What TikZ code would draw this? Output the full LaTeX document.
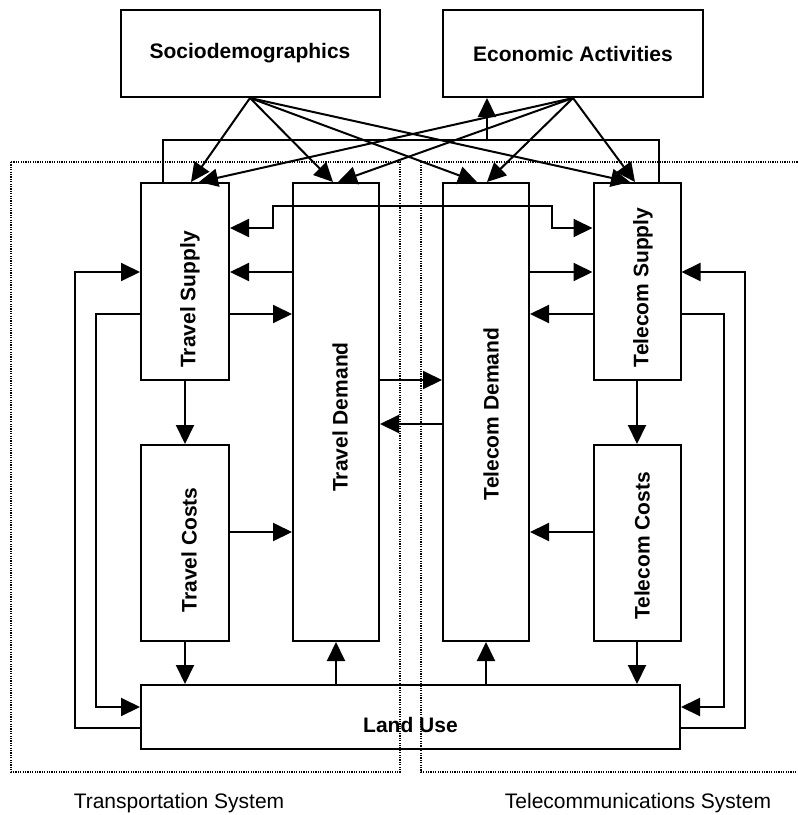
\documentclass[tikz,border=0pt]{standalone}
\usepackage{fontspec}
\setmainfont{Liberation Sans}
\usetikzlibrary{arrows.meta,calc}
\tikzset{
    bloc/.style={draw,line width=2pt,inner sep=0pt},
    lab/.style={font=\fontsize{21}{25}\selectfont\bfseries},
    vlab/.style={lab,rotate=90},
    fl/.style={-{Triangle[length=19pt,width=18pt]},line width=2pt},
    trait/.style={line width=2pt},
    cadre/.style={line width=1.3pt,dash pattern=on 1.2pt off 1.2pt},
    legende/.style={font=\fontsize{21}{25}\selectfont},
}

\begin{document}
\begin{tikzpicture}[x=1pt,y=-1pt]
    \useasboundingbox (0,0) rectangle (798,815);
    %cadres des deux systemes
    \draw[cadre] (11,162) rectangle (400,772);
    \draw[cadre] (800,162) -- (421,162) -- (421,772) -- (800,772);
    \node[legende] (ltrans) at (179,803) {Transportation System};
    \node[legende] (ltele) at (638,803) {Telecommunications System};

    %blocs
    \node[bloc,minimum width=259,minimum height=87] (soc) at (250,53.5) {};
    \node[bloc,minimum width=260,minimum height=87] (eco) at (573,53.5) {};
    \node[bloc,minimum width=88,minimum height=197] (tsup) at (185,281.5) {};
    \node[bloc,minimum width=86,minimum height=458] (tdem) at (336,412) {};
    \node[bloc,minimum width=86,minimum height=458] (cdem) at (486,412) {};
    \node[bloc,minimum width=87,minimum height=197] (csup) at (637,281.5) {};
    \node[bloc,minimum width=88,minimum height=196] (tcost) at (185,543) {};
    \node[bloc,minimum width=87,minimum height=196] (ccost) at (637,543) {};
    \node[bloc,minimum width=539,minimum height=64] (land) at (410.5,717) {};

    %textes des blocs
    \node[lab] (socl) at (soc) {Sociodemographics};
    \node[lab] (ecol) at (eco) {Economic Activities};
    \node[vlab] (tsupl) at ($(tsup)+(5,18)$) {Travel Supply};
    \node[vlab] (tdeml) at ($(tdem)+(4,5)$) {Travel Demand};
    \node[vlab] (cdeml) at ($(cdem)+(5,2)$) {Telecom Demand};
    \node[vlab] (csupl) at ($(csup)+(6,6)$) {Telecom Supply};
    \node[vlab] (tcostl) at ($(tcost)+(4,7)$) {Travel Costs};
    \node[vlab] (ccostl) at ($(ccost)+(5,3)$) {Telecom Costs};
    \node[lab] (landl) at ($(land)+(0,8)$) {Land Use};

    %hauteurs des liaisons
    \coordinate (r2) at (0,228);
    \coordinate (r3) at (0,272);
    \coordinate (r4) at (0,314);
    \coordinate (r5) at (0,380);
    \coordinate (r6) at (0,424);
    \coordinate (r7) at (0,532);
    \coordinate (r8) at (0,707);
    \coordinate (r9) at (0,728);

    %fleches du haut
    \draw[fl] (soc.south) -- ([xshift=6]tsup.north);
    \draw[fl] (soc.south) -- ([xshift=-3]tdem.north);
    \draw[fl] (soc.south) -- ([xshift=-9]cdem.north);
    \draw[fl] (soc.south) -- ([xshift=-7]csup.north);
    \draw[fl] (eco.south) -- ([xshift=14]tsup.north);
    \draw[fl] (eco.south) -- ([xshift=2]tdem.north);
    \draw[fl] (eco.south) -- ([xshift=1]cdem.north);
    \draw[fl] (eco.south) -- ([xshift=-2]csup.north);
    \draw[trait] ([xshift=-22]tsup.north) -- ++(0,-42) -- ++(496,0) -- ([xshift=22]csup.north);
    \coordinate (fb) at (487,141);
    \draw[fl] (fb) -- (fb |- eco.south);
    \draw[{Triangle[length=19pt,width=18pt]}-{Triangle[length=19pt,width=18pt]},line width=2pt]
        (tsup.east |- r2) -- ++(43,0) -- ++(0,-22) -- ++(279,0) -- ++(0,22) -- (csup.west |- r2);

    %liaisons horizontales
    \draw[fl] (tdem.west |- r3) -- (tsup.east |- r3);
    \draw[fl] (tsup.east |- r4) -- (tdem.west |- r4);
    \draw[fl] (cdem.east |- r3) -- (csup.west |- r3);
    \draw[fl] (csup.west |- r4) -- (cdem.east |- r4);
    \draw[fl] (tdem.east |- r5) -- (cdem.west |- r5);
    \draw[fl] (cdem.west |- r6) -- (tdem.east |- r6);
    \draw[fl] (tcost.east |- r7) -- (tdem.west |- r7);
    \draw[fl] (ccost.west |- r7) -- (cdem.east |- r7);

    %liaisons verticales
    \draw[fl] (tsup) -- (tcost);
    \draw[fl] (csup) -- (ccost);
    \draw[fl] (tcost) -- (tcost |- land.north);
    \draw[fl] (ccost) -- (ccost |- land.north);
    \draw[fl] (tdem.south |- land.north) -- (tdem.south);
    \draw[fl] (cdem.south |- land.north) -- (cdem.south);

    %boucles laterales
    \draw[fl] (land.west |- r9) -- ++(-65,0) |- (tsup.west |- r3);
    \draw[fl] (tsup.west |- r4) -- ++(-44,0) |- (land.west |- r8);
    \draw[fl] (land.east |- r9) -- ++(64,0) |- (csup.east |- r3);
    \draw[fl] (csup.east |- r4) -- ++(42,0) |- (land.east |- r8);
\end{tikzpicture}
\end{document}
